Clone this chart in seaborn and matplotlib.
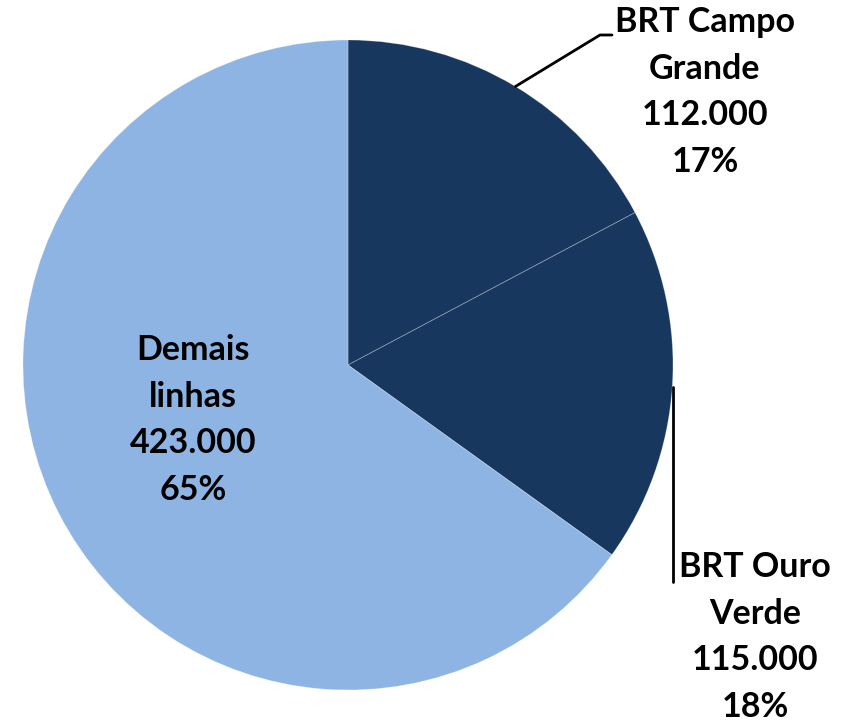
import numpy as np
import seaborn as sns
import matplotlib.pyplot as plt

labels = ['BRT Campo\nGrande', 'BRT Ouro\nVerde', 'Demais\nlinhas']
values = [112000, 115000, 423000]
pct_text = ['17%', '18%', '65%']
colors = ['#17375E', '#17375E', '#8EB4E3']

sns.set_style('white')
plt.rcParams['font.family'] = ['Lato', 'DejaVu Sans']

fig = plt.figure(figsize=(8.43, 7.22), dpi=100)
ax = fig.add_axes([0, 0, 1, 1])

cx, cy, r = 348, 357, 325
wedges, _ = ax.pie(values, colors=colors, startangle=90, counterclock=False,
                   center=(cx, cy), radius=r, frame=True,
                   wedgeprops=dict(edgecolor=(1, 1, 1, 0.3), linewidth=0.6))
ax.set_xlim(0, 843)
ax.set_ylim(0, 722)
ax.set_aspect('equal')
ax.axis('off')

def fmt(v):
    return f'{v:,}'.replace(',', '.')

txt = [f'{l}\n{fmt(v)}\n{p}' for l, v, p in zip(labels, values, pct_text)]
pos = [(705, 722 - 92), (755, 722 - 637), (193, 722 - 420)]
for t, (x, y) in zip(txt, pos):
    ax.text(x, y, t, ha='center', va='center', fontsize=24.5, fontweight='bold',
            linespacing=1.56, color='black')

# leader lines
tot = sum(values)
a1 = np.deg2rad(90 - 360 * values[0] / 2 / tot)
ax.plot([cx + r * np.cos(a1), 600, 612], [cy + r * np.sin(a1), 722 - 35, 722 - 35],
        color='black', lw=2)
a2 = np.deg2rad(90 - 360 * (values[0] + values[1] / 2) / tot)
x2 = cx + r * np.cos(a2) + 1
ax.plot([x2, x2], [cy + r * np.sin(a2), 722 - 582], color='black', lw=2)

fig.savefig('out.png', dpi=100)
